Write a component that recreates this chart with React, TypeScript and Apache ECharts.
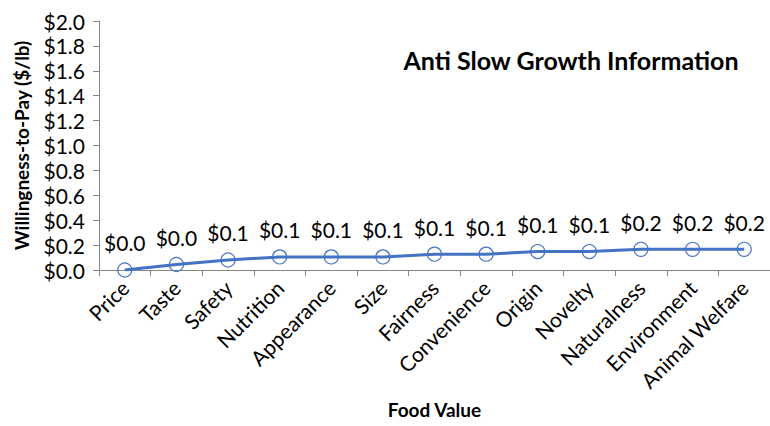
import React, { useEffect, useRef } from "react";
import * as echarts from "echarts";

const categories = [
  "Price", "Taste", "Safety", "Nutrition", "Appearance", "Size", "Fairness",
  "Convenience", "Origin", "Novelty", "Naturalness", "Environment", "Animal Welfare",
];
const wtpValues = [0.0, 0.044, 0.08, 0.105, 0.105, 0.105, 0.127, 0.127, 0.148, 0.148, 0.166, 0.166, 0.166];
const titleText = "Anti Slow Growth Information";
const yAxisName = "Willingness-to-Pay ($/lb)";
const xAxisName = "Food Value";

const FONT = "Lato";

export default function App() {
  const ref = useRef<HTMLDivElement>(null);
  useEffect(() => {
    if (!ref.current) return;
    const chart = echarts.init(ref.current, undefined, { renderer: "svg" });
    chart.setOption({
      animation: false,
      backgroundColor: "#ffffff",
      textStyle: { fontFamily: FONT },
      title: {
        text: titleText,
        right: 26,
        top: 42,
        textStyle: { fontFamily: FONT, fontWeight: "bold", fontSize: 25, color: "#000" },
      },
      grid: { left: 99, top: 21, right: 0, bottom: 156, containLabel: false, outerBoundsMode: "none" },
      xAxis: {
        type: "category",
        data: categories,
        boundaryGap: true,
        name: xAxisName,
        nameLocation: "middle",
        nameGap: 130,
        nameTextStyle: { fontFamily: FONT, fontWeight: "bold", fontSize: 19, color: "#000" },
        axisLine: { lineStyle: { color: "#868686", width: 1 } },
        axisTick: { show: true, length: 6, alignWithLabel: false, lineStyle: { color: "#868686" } },
        axisLabel: { rotate: 45, interval: 0, margin: 14, fontSize: 21, color: "#000", fontFamily: FONT },
        splitLine: { show: false },
      },
      yAxis: {
        type: "value",
        min: 0,
        max: 2,
        interval: 0.2,
        name: yAxisName,
        nameLocation: "middle",
        nameGap: 68,
        nameTextStyle: { fontFamily: FONT, fontWeight: "bold", fontSize: 19, color: "#000" },
        axisLine: { show: true, lineStyle: { color: "#868686", width: 1 } },
        axisTick: { show: true, length: 6, lineStyle: { color: "#868686" } },
        axisLabel: {
          fontSize: 21,
          color: "#000",
          margin: 14,
          fontFamily: FONT,
          formatter: (v: number) => "$" + v.toFixed(1),
        },
        splitLine: { show: false },
      },
      series: [
        {
          type: "line",
          data: wtpValues,
          symbol: "circle",
          symbolSize: 14,
          lineStyle: { color: "#4472C4", width: 3 },
          itemStyle: { color: "rgba(255,255,255,0)", borderColor: "#4472C4", borderWidth: 1.2 },
          label: {
            show: true,
            position: "top",
            distance: 9,
            fontSize: 21,
            color: "#000",
            fontFamily: FONT,
            formatter: (p: any) => "$" + Number(p.value).toFixed(1),
          },
        },
      ],
    });
    return () => chart.dispose();
  }, []);
  return (
    <div
      ref={ref}
      style={{ position: "fixed", left: 0, top: 0, width: 770, height: 426 }}
    />
  );
}
